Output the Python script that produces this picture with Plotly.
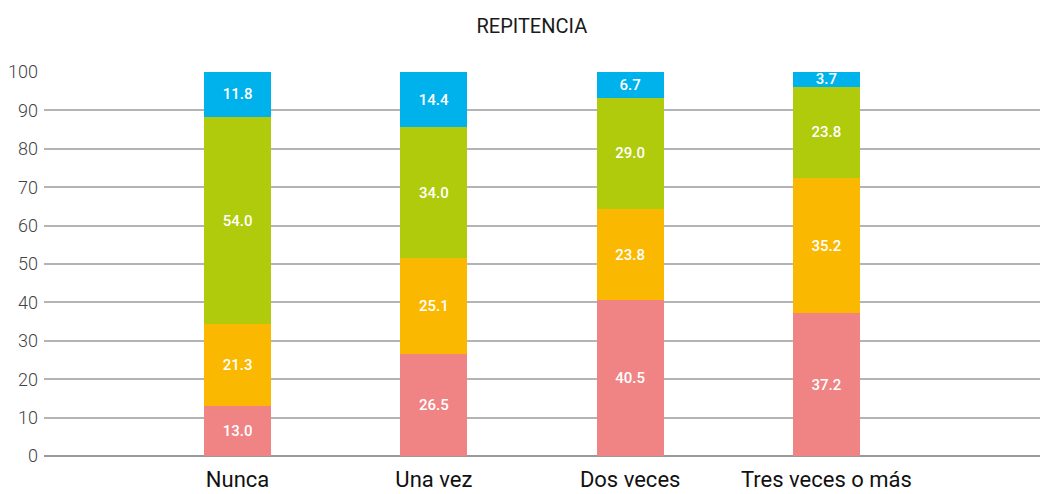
import plotly.graph_objects as go

# Repitencia: porcentaje por categoría, barras apiladas al 100 %
categorias = ["Nunca", "Una vez", "Dos veces", "Tres veces o más"]
serie_1 = [13.0, 26.5, 40.5, 37.2]
serie_2 = [21.3, 25.1, 23.8, 35.2]
serie_3 = [54.0, 34.0, 29.0, 23.8]
serie_4 = [11.8, 14.4, 6.7, 3.7]

series = [serie_1, serie_2, serie_3, serie_4]
colores = ["#F08383", "#FBB800", "#B0CA0C", "#00B2EB"]

y_ticks = list(range(0, 101, 10))

fig = go.Figure()
for valores, color in zip(series, colores):
    fig.add_trace(go.Bar(
        x=categorias,
        y=valores,
        marker=dict(color=color, line=dict(width=0)),
        width=0.34,
        texttemplate="%{y:.1f}",
        textposition="inside",
        insidetextanchor="middle",
        constraintext="none",
        textangle=0,
        textfont=dict(family="Roboto", size=15, color="white", weight=500),
        showlegend=False,
        hoverinfo="skip",
    ))

fig.update_layout(
    barmode="stack",
    width=1049,
    height=494,
    margin=dict(l=44, r=9, t=72, b=38),
    paper_bgcolor="white",
    plot_bgcolor="white",
    font=dict(family="Roboto"),
    title=dict(
        text="REPITENCIA",
        x=0.507,
        xanchor="center",
        y=0.947,
        yanchor="middle",
        font=dict(family="Roboto", size=20, color="#1A1A1A"),
    ),
    xaxis=dict(
        range=[-0.986, 4.088],
        showgrid=False,
        showline=False,
        ticks="",
        automargin=False,
        ticklabelstandoff=8,
        tickfont=dict(family="Roboto", size=22, color="#111111"),
    ),
    yaxis=dict(
        range=[0, 100],
        tickvals=y_ticks,
        showgrid=True,
        gridcolor="#B4B4B4",
        gridwidth=1.5,
        zeroline=True,
        zerolinecolor="#9A9A9A",
        zerolinewidth=2,
        ticks="",
        automargin=False,
        ticklabelstandoff=5,
        tickfont=dict(family="Roboto", size=18, color="#444444", weight=300),
    ),
)

fig.write_html("out.html")
